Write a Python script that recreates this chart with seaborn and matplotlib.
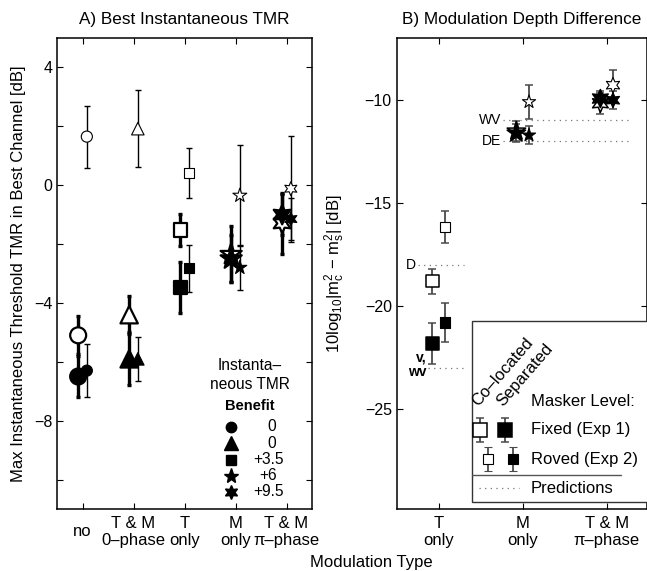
"""Best instantaneous TMR and modulation depth difference per modulation type."""
import matplotlib
matplotlib.use('Agg')
from matplotlib import pyplot as plt
import numpy as np
import pandas as pd
import seaborn as sns

# ---- panel A: max instantaneous threshold TMR in best channel [dB]
mods_a = ['no', 'T & M\n0–phase', 'T\nonly', 'M\nonly', 'T & M\nπ–phase']
benefit = ['0', '0', '+3.5', '+6', '+9.5']
a_fixed_co = [-5.1, -4.4, -1.52, -2.35, -1.3]
a_fixed_co_err = [0.65, 0.65, 0.55, 0.95, 1.05]
a_fixed_sep = [-6.5, -5.9, -3.47, -2.5, -1.0]
a_fixed_sep_err = [0.7, 0.9, 0.87, 0.8, 0.7]
a_roved_co = [1.65, 1.92, 0.41, -0.35, -0.12]
a_roved_co_err = [1.05, 1.3, 0.85, 1.7, 1.8]
a_roved_sep = [-6.3, -5.9, -2.82, -2.8, -1.15]
a_roved_sep_err = [0.9, 0.75, 0.8, 0.77, 0.7]

# ---- panel B: 10log10|mc^2 - ms^2| [dB]
mods_b = ['T\nonly', 'M\nonly', 'T & M\nπ–phase']
b_fixed_co = [-18.79, -11.5, -10.15]
b_fixed_co_err = [0.6, 0.5, 0.5]
b_fixed_sep = [-21.81, -11.6, -9.92]
b_fixed_sep_err = [0.99, 0.45, 0.35]
b_roved_co = [-16.15, -10.08, -9.27]
b_roved_co_err = [0.78, 0.82, 0.75]
b_roved_sep = [-20.8, -11.7, -10.0]
b_roved_sep_err = [0.93, 0.43, 0.45]

# model predictions (panel B)
pred_labels = ['D', 'v,\nwv', 'WV', 'DE']
pred_values = [-18.0, -23.0, -10.95, -12.0]


def make_frame(fixed_co, fixed_co_err, fixed_sep, fixed_sep_err,
               roved_co, roved_co_err, roved_sep, roved_sep_err):
    rows = []
    groups = [('fixed', 'co', fixed_co, fixed_co_err),
              ('fixed', 'sep', fixed_sep, fixed_sep_err),
              ('roved', 'co', roved_co, roved_co_err),
              ('roved', 'sep', roved_sep, roved_sep_err)]
    for exp, loc, vals, errs in groups:
        for i, (v, e) in enumerate(zip(vals, errs)):
            rows.append(dict(mod=i, exp=exp, loc=loc, val=v, err=e))
    return pd.DataFrame(rows)


df_a = make_frame(a_fixed_co, a_fixed_co_err, a_fixed_sep, a_fixed_sep_err,
                  a_roved_co, a_roved_co_err, a_roved_sep, a_roved_sep_err)
df_b = make_frame(b_fixed_co, b_fixed_co_err, b_fixed_sep, b_fixed_sep_err,
                  b_roved_co, b_roved_co_err, b_roved_sep, b_roved_sep_err)

HEX = (6, 1, 0)
face = {'co': 'white', 'sep': 'black'}


def draw_panel(ax, df, markers, msize, lw, offset, errstyle):
    df = df.copy()
    df['x'] = df['mod'] + 1 + np.where(df['exp'] == 'fixed', -offset, offset)
    for exp in ['fixed', 'roved']:
        sub = df[df['exp'] == exp]
        for _, r in sub.iterrows():
            ax.errorbar(r['x'], r['val'], yerr=r['err'], fmt='none', zorder=2,
                        **errstyle[exp])
    for exp in ['fixed', 'roved']:
        for m, mk in enumerate(markers):
            sub = df[(df['exp'] == exp) & (df['mod'] == m)]
            sns.scatterplot(data=sub, x='x', y='val', hue='loc', palette=face,
                            marker=mk, s=msize[exp][m] ** 2, edgecolor='black',
                            linewidth=lw[exp], legend=False, ax=ax, zorder=3)
    ax.set_xlabel('')
    ax.set_ylabel('')


sns.set_style('ticks')
plt.rcParams['font.family'] = ['Liberation Sans', 'DejaVu Sans']
plt.rcParams['mathtext.fontset'] = 'custom'
plt.rcParams['mathtext.rm'] = 'Liberation Sans'
plt.rcParams['mathtext.it'] = 'Liberation Sans:italic'
plt.rcParams['axes.linewidth'] = 1.1
plt.rcParams['axes.edgecolor'] = 'black'
plt.rcParams['text.color'] = 'black'
plt.rcParams['axes.labelcolor'] = 'black'
plt.rcParams['xtick.color'] = 'black'
plt.rcParams['ytick.color'] = 'black'
plt.rcParams['font.size'] = 12

fig = plt.figure(figsize=(6.47, 5.71), dpi=100)
ax_a = fig.add_axes([57 / 647, 62 / 571, 255 / 647, 471 / 571])
ax_b = fig.add_axes([396.7 / 647, 62 / 571, 250.3 / 647, 471 / 571])

# ---------------- panel A
err_a = {'fixed': dict(ecolor='black', elinewidth=2.4, capsize=1.5, capthick=2.4),
         'roved': dict(ecolor='black', elinewidth=1.0, capsize=2.0, capthick=1.0)}
draw_panel(ax_a, df_a, ['o', '^', 's', '*', HEX],
           {'fixed': [11.5, 12.5, 9.5, 16, 14], 'roved': [8, 9, 7, 10.5, 10]},
           {'fixed': 1.6, 'roved': 0.8}, 0.085, err_a)
ax_a.set_xlim(0.5, 5.5)
ax_a.set_ylim(-11, 5)
ax_a.set_yticks(np.arange(-10, 5, 2))
ax_a.set_yticklabels([str(int(t)).replace('-', '−') if t % 4 == 0 else ''
                      for t in np.arange(-10, 5, 2)])
ax_a.set_xticks(np.arange(1, 6))
ax_a.set_xticklabels(mods_a)
ax_a.set_title('A) Best Instantaneous TMR', fontsize=12.3, pad=10)
ax_a.set_ylabel('Max Instantaneous Threshold TMR in Best Channel [dB]', fontsize=12)
ax_a.yaxis.set_label_coords(-0.12, 0.5)

# benefit legend
leg_x = (231 - 57) / 255
txt_x = (268 - 57) / 255
ax_a.text((250 - 57) / 255, (509 - 365) / 471, 'Instanta–', transform=ax_a.transAxes,
          ha='center', va='center', fontsize=11.2)
ax_a.text((250 - 57) / 255, (509 - 384.5) / 471, 'neous TMR', transform=ax_a.transAxes,
          ha='center', va='center', fontsize=11.2)
ax_a.text((250 - 57) / 255, (509 - 406) / 471, 'Benefit', transform=ax_a.transAxes,
          ha='center', va='center', fontsize=10.5, fontweight='bold')
leg_rows_y = [426.5, 443, 459.5, 476, 492]
for mk, lab, py, ms in zip(['o', '^', 's', '*', HEX], benefit, leg_rows_y,
                           [7.5, 10, 7, 11, 10]):
    y = (509 - py) / 471
    ax_a.plot([leg_x], [y], marker=mk, color='black', markersize=ms,
              transform=ax_a.transAxes, clip_on=False)
    ax_a.text(txt_x + 0.015 * (lab == '0'), y, lab, transform=ax_a.transAxes,
              ha='center', va='center', fontsize=11.2)

# ---------------- panel B
err_b = {'fixed': dict(ecolor='#4a4a4a', elinewidth=1.3, capsize=2.6, capthick=1.1),
         'roved': dict(ecolor='#4a4a4a', elinewidth=1.3, capsize=2.6, capthick=1.1)}
draw_panel(ax_b, df_b, ['s', '*', HEX],
           {'fixed': [9, 14, 13], 'roved': [7.5, 10, 11]},
           {'fixed': 1.1, 'roved': 0.8}, 0.075, err_b)
ax_b.set_xlim(0.5, 3.48)
ax_b.set_ylim(-29.85, -6.98)
ax_b.set_yticks([-25, -20, -15, -10])
ax_b.set_yticklabels(['−25', '−20', '−15', '−10'])
ax_b.set_xticks([1, 2, 3])
ax_b.set_xticklabels(mods_b)
ax_b.set_title('B) Modulation Depth Difference', fontsize=12.3, pad=10)
ax_b.set_ylabel(r'10log$_{10}$|m$_\mathrm{c}^2$ $-$ m$_\mathrm{s}^2$| [dB]', fontsize=12)
ax_b.yaxis.set_label_coords(-0.2, 0.5)

# predictions
pred_spans = [(0.75, 1.3), (0.87, 1.31), (1.76, 3.29), (1.76, 3.29)]
for lab, val, (x0, x1) in zip(pred_labels, pred_values, pred_spans):
    ax_b.plot([x0, x1], [val, val], color='#777777', lw=0.9, ls=(0, (1, 3.5)), zorder=1)
    bold = 'bold' if lab.startswith('v') else 'normal'
    ax_b.text(x0 - 0.02, val + (0.15 if bold == 'bold' else 0), lab, ha='right',
              va='center', fontsize=10, fontweight=bold, linespacing=1.0)

# masker-level legend (drawn inside the axes)
tr = ax_b.transAxes
box = plt.Rectangle((0.30, 0.0155), 0.75, 0.384, transform=tr, fill=True,
                    facecolor='white', edgecolor='#333333', lw=1.0, zorder=4)
ax_b.add_patch(box)
ax_b.text(0.335, 0.212, 'Co–located', transform=tr, rotation=49, ha='left',
          va='bottom', rotation_mode='anchor', fontsize=12, zorder=5)
ax_b.text(0.435, 0.212, 'Separated', transform=tr, rotation=49, ha='left',
          va='bottom', rotation_mode='anchor', fontsize=12, zorder=5)
ax_b.text(0.535, 0.228, 'Masker Level:', transform=tr, va='center', fontsize=12, zorder=5)
ax_b.text(0.535, 0.168, 'Fixed (Exp 1)', transform=tr, va='center', fontsize=12, zorder=5)
ax_b.text(0.535, 0.106, 'Roved (Exp 2)', transform=tr, va='center', fontsize=12, zorder=5)
for lx, ly, fc, ms, mew in [(0.334, 0.168, 'white', 9.5, 1.1), (0.433, 0.168, 'black', 9.5, 1.1),
                            (0.366, 0.106, 'white', 7, 0.8), (0.465, 0.106, 'black', 7, 0.8)]:
    ax_b.errorbar(lx, ly, yerr=0.026, fmt='s', mfc=fc, mec='black', ms=ms, mew=mew,
                  ecolor='#4a4a4a', elinewidth=1.3, capsize=2.6, capthick=1.1,
                  transform=tr, zorder=5)
ax_b.plot([0.30, 0.897], [0.072, 0.072], color='#555555', lw=1.0, transform=tr, zorder=5)
ax_b.plot([0.33, 0.489], [0.044, 0.044], color='#777777', lw=0.9, ls=(0, (1, 3.5)),
          transform=tr, zorder=5)
ax_b.text(0.535, 0.044, 'Predictions', transform=tr, va='center', fontsize=12, zorder=5)

for ax in (ax_a, ax_b):
    ax.tick_params(direction='in', top=True, right=True, length=4, width=0.8,
                   colors='black')
    ax.tick_params(axis='y', labelsize=11.5)
    ax.tick_params(axis='x', pad=16.5, labelsize=12)
    for lbl in ax.get_xticklabels():
        lbl.set_va('center')
        lbl.set_linespacing(1.2)
    for s in ax.spines.values():
        s.set_visible(True)
        s.set_color('black')

fig.text(371 / 647, 1 - 562 / 571, 'Modulation Type', ha='center', va='center',
         fontsize=12)

fig.savefig('out.png', dpi=100)
